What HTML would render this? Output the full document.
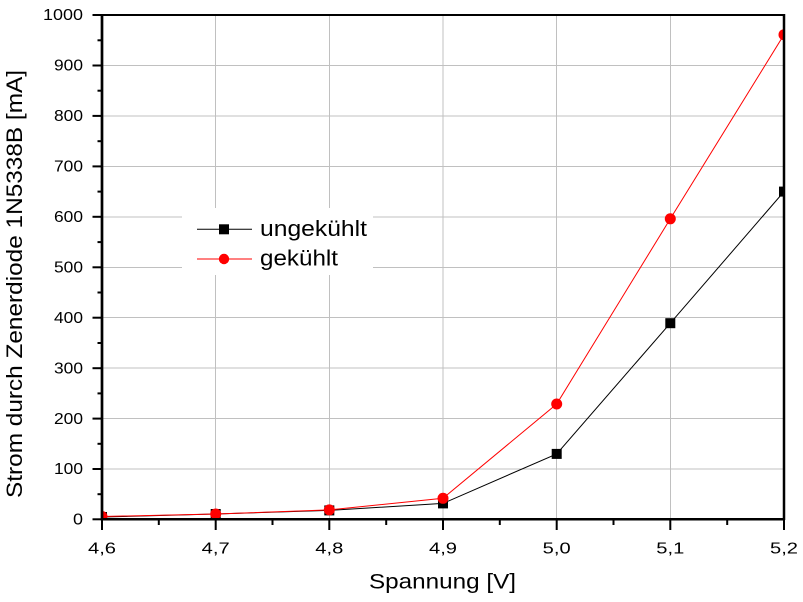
<!DOCTYPE html>
<html>
<head>
<meta charset="utf-8">
<style>
html,body{margin:0;padding:0;background:#fff;}
svg{display:block;}
text{font-family:"Liberation Sans",Arial,sans-serif;fill:#000;}
</style>
</head>
<body>
<svg width="803" height="602" viewBox="0 0 803 602" xmlns="http://www.w3.org/2000/svg">
<defs>
<clipPath id="pc"><rect x="102" y="15" width="682" height="504.5"/></clipPath>
</defs>
<rect x="0" y="0" width="803" height="602" fill="#fff"/>
<!-- grid -->
<g stroke="#c0c0c0" stroke-width="1" shape-rendering="crispEdges">
<line x1="215.7" y1="15" x2="215.7" y2="519"/>
<line x1="329.3" y1="15" x2="329.3" y2="519"/>
<line x1="443" y1="15" x2="443" y2="519"/>
<line x1="556.7" y1="15" x2="556.7" y2="519"/>
<line x1="670.3" y1="15" x2="670.3" y2="519"/>
<line x1="102" y1="469" x2="784" y2="469"/>
<line x1="102" y1="418.6" x2="784" y2="418.6"/>
<line x1="102" y1="368.2" x2="784" y2="368.2"/>
<line x1="102" y1="317.7" x2="784" y2="317.7"/>
<line x1="102" y1="267.3" x2="784" y2="267.3"/>
<line x1="102" y1="216.8" x2="784" y2="216.8"/>
<line x1="102" y1="166.4" x2="784" y2="166.4"/>
<line x1="102" y1="115.9" x2="784" y2="115.9"/>
<line x1="102" y1="65.5" x2="784" y2="65.5"/>
</g>
<!-- legend background -->
<rect x="182" y="208" width="191" height="67" fill="#fff"/>
<!-- data -->
<g clip-path="url(#pc)">
<polyline fill="none" stroke="#000" stroke-width="1" points="102,517 215.7,514 329.3,510.4 443,503.4 556.7,453.9 670.3,323.2 784,191.6"/>
<g fill="#000">
<rect x="97" y="512" width="10" height="10"/>
<rect x="210.7" y="509" width="10" height="10"/>
<rect x="324.3" y="505.4" width="10" height="10"/>
<rect x="438" y="498.4" width="10" height="10"/>
<rect x="551.7" y="448.9" width="10" height="10"/>
<rect x="665.3" y="318.2" width="10" height="10"/>
<rect x="779" y="186.6" width="10" height="10"/>
</g>
<polyline fill="none" stroke="#ff0000" stroke-width="1" points="102,516.5 215.7,514 329.3,509.9 443,498.3 556.7,404 670.3,218.8 784,34.7"/>
<g fill="#ff0000">
<circle cx="102" cy="516.5" r="5.5"/>
<circle cx="215.7" cy="514" r="5.5"/>
<circle cx="329.3" cy="509.9" r="5.5"/>
<circle cx="443" cy="498.3" r="5.5"/>
<circle cx="556.7" cy="404" r="5.5"/>
<circle cx="670.3" cy="218.8" r="5.5"/>
<circle cx="784" cy="34.7" r="5.5"/>
</g>
</g>
<!-- frame -->
<g stroke="#000" fill="none">
<line x1="102" y1="15" x2="785" y2="15" stroke-width="2"/>
<line x1="784" y1="14" x2="784" y2="520" stroke-width="2.5"/>
<line x1="102" y1="14" x2="102" y2="520.5" stroke-width="2.7"/>
<line x1="101" y1="519.3" x2="785" y2="519.3" stroke-width="2.5"/>
</g>
<!-- y ticks -->
<g stroke="#000" stroke-width="2">
<line x1="92.5" y1="519.3" x2="102" y2="519.3"/>
<line x1="92.5" y1="469" x2="102" y2="469"/>
<line x1="92.5" y1="418.6" x2="102" y2="418.6"/>
<line x1="92.5" y1="368.2" x2="102" y2="368.2"/>
<line x1="92.5" y1="317.7" x2="102" y2="317.7"/>
<line x1="92.5" y1="267.3" x2="102" y2="267.3"/>
<line x1="92.5" y1="216.8" x2="102" y2="216.8"/>
<line x1="92.5" y1="166.4" x2="102" y2="166.4"/>
<line x1="92.5" y1="115.9" x2="102" y2="115.9"/>
<line x1="92.5" y1="65.5" x2="102" y2="65.5"/>
<line x1="92.5" y1="15" x2="102" y2="15"/>
<line x1="97.5" y1="494.2" x2="102" y2="494.2"/>
<line x1="97.5" y1="443.8" x2="102" y2="443.8"/>
<line x1="97.5" y1="393.4" x2="102" y2="393.4"/>
<line x1="97.5" y1="343" x2="102" y2="343"/>
<line x1="97.5" y1="292.5" x2="102" y2="292.5"/>
<line x1="97.5" y1="242.1" x2="102" y2="242.1"/>
<line x1="97.5" y1="191.6" x2="102" y2="191.6"/>
<line x1="97.5" y1="141.2" x2="102" y2="141.2"/>
<line x1="97.5" y1="90.7" x2="102" y2="90.7"/>
<line x1="97.5" y1="40.3" x2="102" y2="40.3"/>
</g>
<!-- x ticks -->
<g stroke="#000" stroke-width="2">
<line x1="102" y1="519" x2="102" y2="530"/>
<line x1="215.7" y1="519" x2="215.7" y2="530"/>
<line x1="329.3" y1="519" x2="329.3" y2="530"/>
<line x1="443" y1="519" x2="443" y2="530"/>
<line x1="556.7" y1="519" x2="556.7" y2="530"/>
<line x1="670.3" y1="519" x2="670.3" y2="530"/>
<line x1="784" y1="519" x2="784" y2="530"/>
<line x1="158.8" y1="519" x2="158.8" y2="525"/>
<line x1="272.5" y1="519" x2="272.5" y2="525"/>
<line x1="386.2" y1="519" x2="386.2" y2="525"/>
<line x1="499.8" y1="519" x2="499.8" y2="525"/>
<line x1="613.5" y1="519" x2="613.5" y2="525"/>
<line x1="727.2" y1="519" x2="727.2" y2="525"/>
</g>
<!-- y tick labels -->
<g font-size="16" text-anchor="end">
<text x="83" y="524.5" textLength="10" lengthAdjust="spacingAndGlyphs">0</text>
<text x="83" y="474.2" textLength="29" lengthAdjust="spacingAndGlyphs">100</text>
<text x="83" y="423.8" textLength="29" lengthAdjust="spacingAndGlyphs">200</text>
<text x="83" y="373.4" textLength="29" lengthAdjust="spacingAndGlyphs">300</text>
<text x="83" y="322.9" textLength="29" lengthAdjust="spacingAndGlyphs">400</text>
<text x="83" y="272.5" textLength="29" lengthAdjust="spacingAndGlyphs">500</text>
<text x="83" y="222" textLength="29" lengthAdjust="spacingAndGlyphs">600</text>
<text x="83" y="171.6" textLength="29" lengthAdjust="spacingAndGlyphs">700</text>
<text x="83" y="121.1" textLength="29" lengthAdjust="spacingAndGlyphs">800</text>
<text x="83" y="70.7" textLength="29" lengthAdjust="spacingAndGlyphs">900</text>
<text x="83" y="20.2" textLength="40" lengthAdjust="spacingAndGlyphs">1000</text>
</g>
<!-- x tick labels -->
<g font-size="16" text-anchor="middle">
<text x="102" y="553.5" textLength="28" lengthAdjust="spacingAndGlyphs">4,6</text>
<text x="215.7" y="553.5" textLength="28" lengthAdjust="spacingAndGlyphs">4,7</text>
<text x="329.3" y="553.5" textLength="28" lengthAdjust="spacingAndGlyphs">4,8</text>
<text x="443" y="553.5" textLength="28" lengthAdjust="spacingAndGlyphs">4,9</text>
<text x="556.7" y="553.5" textLength="28" lengthAdjust="spacingAndGlyphs">5,0</text>
<text x="670.3" y="553.5" textLength="28" lengthAdjust="spacingAndGlyphs">5,1</text>
<text x="784" y="553.5" textLength="28" lengthAdjust="spacingAndGlyphs">5,2</text>
</g>
<!-- axis titles -->
<text x="442.5" y="588.5" font-size="21" text-anchor="middle" textLength="147" lengthAdjust="spacingAndGlyphs">Spannung [V]</text>
<text transform="translate(22,284) rotate(-90)" font-size="22" text-anchor="middle" textLength="428" lengthAdjust="spacingAndGlyphs">Strom durch Zenerdiode 1N5338B [mA]</text>
<!-- legend -->
<line x1="197" y1="229.3" x2="252" y2="229.3" stroke="#000" stroke-width="1"/>
<rect x="219" y="224.3" width="10" height="10" fill="#000"/>
<text x="260" y="236" font-size="22" textLength="107" lengthAdjust="spacingAndGlyphs">ungekühlt</text>
<line x1="197" y1="259" x2="252" y2="259" stroke="#ff0000" stroke-width="1"/>
<circle cx="224" cy="259" r="5.2" fill="#ff0000"/>
<text x="260" y="265.5" font-size="22" textLength="78" lengthAdjust="spacingAndGlyphs">gekühlt</text>
</svg>
</body>
</html>
